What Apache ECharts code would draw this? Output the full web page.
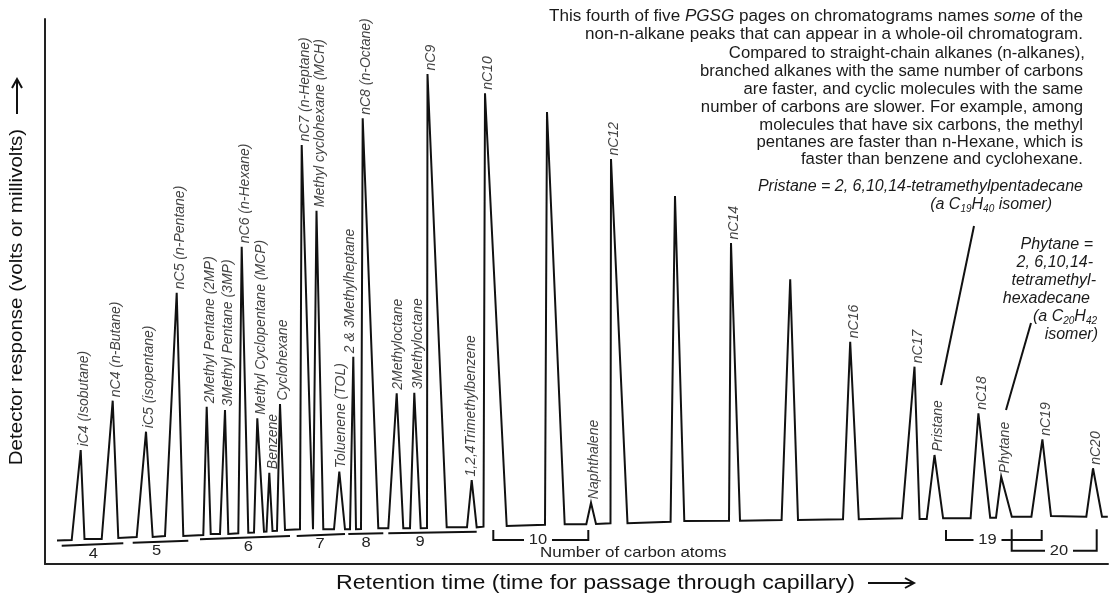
<!DOCTYPE html>
<html><head><meta charset="utf-8">
<script src="https://cdn.jsdelivr.net/npm/echarts@6/dist/echarts.min.js"></script>
<style>html,body{margin:0;padding:0;background:#fff}#c{width:1115px;height:596px}</style>
</head><body><div id="c"></div>
<script>
// ---- data (retention time units, detector response units) ----
const peakNames = ['iC4 (Isobutane)','nC4 (n-Butane)','iC5 (isopentane)','nC5 (n-Pentane)','2Methyl Pentane (2MP)','3Methyl Pentane (3MP)','nC6 (n-Hexane)','Methyl Cyclopentane (MCP)','Benzene','Cyclohexane','nC7 (n-Heptane)','Methyl cyclohexane (MCH)','Toluenene (TOL)','2 & 3Methylheptane','nC8 (n-Octane)','2Methyloctane','3Methyloctane','nC9','1,2,4Trimethylbenzene','nC10','','Naphthalene','nC12','','nC14','','nC16','nC17','Pristane','nC18','Phytane','nC19','nC20'];
const riseTime   = [26.7,56.7,91.7,120,158.3,175,193.3,209,221.5,232,255,270,289,305,316,343.3,365,382,422,438.5,500,541.3,565.5,625.6,684,736.6,798,857,881.7,925.6,951,986.4,1041.3];
const riseLevel  = [24,25,27,28,29,30,30.7,31.5,32.5,33.3,34.7,34.7,34.7,34.7,35,35.7,35.7,36,36.7,37.3,39.3,39.7,40.7,42.3,43.3,44,44.7,45.7,45,45.7,46.3,47.3,47.3];
const apexTime   = [35.7,67.7,101,131.7,161.7,180,196.7,212.3,224.3,235,256.7,271.5,294.3,308.3,317.7,351.7,369.3,382.5,426.7,440,502,546,566,630,686,745.2,805.2,869.5,889.5,933.4,956.2,997.4,1048];
const apexHeight = [114,163.3,132.3,271.3,157.3,154,317.3,145.7,91.3,160,419,353.3,92.3,207.3,445.7,170.7,171.3,490,84,470.7,452,61.3,405,368,321,284.7,222.3,197.3,109,150.7,87.3,124.7,95.7];
const fallTime   = [39.5,73.3,107.7,138.3,165.7,183.3,203.3,219,227.5,240,268,278.3,300,311,333.3,358.3,375.7,401.7,431.7,461.7,519.7,551,582.5,639.3,695,753,813.8,874.6,898.1,945.2,966.8,1006,1057];
const fallLevel  = [25,26,27,28,30,30,31.3,32.3,33,34,34.7,34.7,34.7,34.7,35.7,35.7,35.7,36.7,36.7,38,39.7,40,40.7,43,43.3,44,44.7,45,45.7,46.3,47.3,48,47.3];
const traceStart = [12, 23.5];
const traceEnd   = [1062.8, 47.3];

// carbon-number groups (underlines)
const groupCarbons   = ['4','5','6','7','8','9'];
const groupFrom      = [16.7,87.7,155,251.7,303.3,343.3];
const groupTo        = [78.3,143.3,245,300,338.3,431.7];
const groupLevelFrom = [18.3,21.3,24.7,28,30,30.7];
const groupLevelTo   = [20.7,23.3,28,30,30.7,32.3];
const groupLabelAt   = [48.3,111.7,203.3,275,321,375];

// carbon-number brackets
const bracketCarbons = ['10','19','20'];
const bracketFrom    = [448.3,901,966.7];
const bracketTo      = [543.3,996.7,1051.7];
const bracketTop     = [34,34,34.7];
const bracketLevel   = [24,24,13.3];
const bracketLabelAt = [493,942.5,1014];

// leader lines for Pristane / Phytane notes
const leaderFrom = [[896,179],[961,154]];
const leaderTo   = [[929,338],[986,241]];

// ---- styling helpers (not data) ----
const labelNudge = { '2 & 3Methylheptane': -7, '1,2,4Trimethylbenzene': -4, 'Toluenene (TOL)': -2, '2Methyloctane': -2 };

// ---- build ----
const trace = [traceStart];
for (let i = 0; i < peakNames.length; i++) {
  trace.push([riseTime[i], riseLevel[i]], [apexTime[i], apexHeight[i]], [fallTime[i], fallLevel[i]]);
}
trace.push(traceEnd);

const labelData = [];
peakNames.forEach((n, i) => {
  if (!n) return;
  const item = { name: n, value: [apexTime[i], apexHeight[i]] };
  if (labelNudge[n] !== undefined) item.label = { position: [4 + labelNudge[n], -3] };
  labelData.push(item);
});

const FF = "'Liberation Sans', Arial, Helvetica, sans-serif";
const INK = '#111';

const groupData = groupCarbons.map((c, i) => [groupFrom[i], groupLevelFrom[i], groupTo[i], groupLevelTo[i], groupLabelAt[i], i]);
const bracketData = bracketCarbons.map((c, i) => [bracketFrom[i], bracketTop[i], bracketTo[i], bracketLevel[i], bracketLabelAt[i], i]);
const leaderData = leaderFrom.map((f, i) => [f[0], f[1], leaderTo[i][0], leaderTo[i][1]]);

const chart = echarts.init(document.getElementById('c'));

const TS = 16.7;
function txt(x, y, text, opts, extra) {
  return Object.assign({ type: 'text', x: x, y: y, silent: true,
    style: Object.assign({ text: text, fill: '#1a1a1a', fontSize: TS, fontFamily: FF, align: 'right', verticalAlign: 'middle' }, opts || {}) }, extra || {});
}
const R = { fontSize: 17.1, fontFamily: FF, fill: '#1a1a1a', lineHeight: 18, verticalAlign: 'middle' };
const RI = Object.assign({}, R, { fontStyle: 'italic' });
const RI16 = Object.assign({}, RI, { fontSize: 16 });
const RS = { fontSize: 10, fontFamily: FF, fontStyle: 'italic', fill: '#1a1a1a', lineHeight: 12, verticalAlign: 'bottom' };

const graphics = [
  txt(1083, 16, 'This fourth of five {i|PGSG} pages on chromatograms names {i|some} of the', { fontSize: 17.1, rich: { i: RI } }),
  txt(1083, 34, 'non-n-alkane peaks that can appear in a whole-oil chromatogram.', { fontSize: 17.1 }),
  txt(1085, 53, 'Compared to straight-chain alkanes (n-alkanes),'),
  txt(1083, 71, 'branched alkanes with the same number of carbons'),
  txt(1083, 89, 'are faster, and cyclic molecules with the same'),
  txt(1083, 107, 'number of carbons are slower. For example, among'),
  txt(1083, 125, 'molecules that have six carbons, the methyl'),
  txt(1083, 142, 'pentanes are faster than n-Hexane, which is'),
  txt(1083, 159, 'faster than benzene and cyclohexane.'),
  txt(1083, 187, 'Pristane = 2, 6,10,14-tetramethylpentadecane', { fontStyle: 'italic', fontSize: 16 }),
  txt(1052, 205, '{a|(a C}{s|19}{a|H}{s|40}{a| isomer)}', { rich: { a: RI16, s: RS } }),
  txt(1093, 245, 'Phytane =', { fontStyle: 'italic', fontSize: 16 }),
  txt(1093, 263, '2, 6,10,14-', { fontStyle: 'italic', fontSize: 16 }),
  txt(1096, 281, 'tetramethyl-', { fontStyle: 'italic', fontSize: 16 }),
  txt(1090, 299, 'hexadecane', { fontStyle: 'italic', fontSize: 16 }),
  txt(1097, 317, '{a|(a C}{s|20}{a|H}{s|42}', { rich: { a: RI16, s: RS } }),
  txt(1098, 335, 'isomer)', { fontStyle: 'italic', fontSize: 16 }),
  txt(540, 553, 'Number of carbon atoms', { align: 'left', fontSize: 15, fill: '#222' }, { scaleX: 1.13 }),
  txt(336, 583, 'Retention time (time for passage through capillary)', { align: 'left', fontSize: 20.5, fill: '#111' }, { scaleX: 1.13 }),
  { type: 'text', x: 17, y: 297, rotation: Math.PI / 2, scaleX: 1.14, silent: true,
    style: { text: 'Detector response (volts or millivolts)', fill: '#111', fontSize: 18, fontFamily: FF, align: 'center', verticalAlign: 'middle' } },
  { type: 'line', silent: true, shape: { x1: 868, y1: 583, x2: 914, y2: 583 }, style: { stroke: '#111', lineWidth: 2 } },
  { type: 'polyline', silent: true, shape: { points: [[905, 578], [914, 583], [905, 588]] }, style: { stroke: '#111', lineWidth: 2, fill: null } },
  { type: 'line', silent: true, shape: { x1: 17, y1: 114, x2: 17, y2: 79 }, style: { stroke: '#111', lineWidth: 2 } },
  { type: 'polyline', silent: true, shape: { points: [[12, 88], [17, 79], [22, 88]] }, style: { stroke: '#111', lineWidth: 2, fill: null } }
];

chart.setOption({
  animation: false,
  backgroundColor: '#fff',
  grid: { left: 45, right: 7, top: 19, bottom: 32 },
  xAxis: { type: 'value', min: 0, max: 1063, axisLine: { show: true, onZero: false, lineStyle: { color: '#222', width: 2 } },
           axisTick: { show: false }, axisLabel: { show: false }, splitLine: { show: false } },
  yAxis: { type: 'value', min: 0, max: 545, axisLine: { show: true, lineStyle: { color: '#222', width: 2 } },
           axisTick: { show: false }, axisLabel: { show: false }, splitLine: { show: false } },
  graphic: graphics,
  series: [
    { type: 'line', data: trace, showSymbol: false, symbol: 'none', silent: true, sampling: null,
      lineStyle: { color: INK, width: 2, join: 'miter', miterLimit: 6 } },
    { type: 'scatter', data: labelData, symbolSize: 1, silent: true,
      itemStyle: { color: 'rgba(0,0,0,0)' },
      label: { show: true, formatter: '{b}', position: [4, -3], rotate: 90, align: 'left', verticalAlign: 'middle',
               fontStyle: 'italic', fontSize: 14, fontFamily: FF, color: INK } },
    { type: 'custom', data: groupData, silent: true,
      renderItem: function (params, api) {
        const a = api.coord([api.value(0), api.value(1)]);
        const b = api.coord([api.value(2), api.value(3)]);
        const l = api.coord([api.value(4), (api.value(1) + api.value(3)) / 2]);
        const i = api.value(5);
        return { type: 'group', children: [
          { type: 'line', shape: { x1: a[0], y1: a[1], x2: b[0], y2: b[1] }, style: { stroke: INK, lineWidth: 2 } },
          { type: 'text', x: l[0], y: l[1] + 9, scaleX: 1.1, style: { text: groupCarbons[i], fill: '#222', fontSize: 15, fontFamily: FF, align: 'center', verticalAlign: 'middle' } }
        ] };
      } },
    { type: 'custom', data: bracketData, silent: true,
      renderItem: function (params, api) {
        const t = api.coord([api.value(0), api.value(1)]);
        const bl = api.coord([api.value(0), api.value(3)]);
        const br = api.coord([api.value(2), api.value(3)]);
        const tr = api.coord([api.value(2), api.value(1)]);
        const l = api.coord([api.value(4), api.value(3)]);
        const i = api.value(5);
        const gap = 14;
        return { type: 'group', children: [
          { type: 'polyline', shape: { points: [t, bl, [l[0] - gap, bl[1]]] }, style: { stroke: INK, lineWidth: 2, fill: null } },
          { type: 'polyline', shape: { points: [[l[0] + gap, br[1]], br, tr] }, style: { stroke: INK, lineWidth: 2, fill: null } },
          { type: 'text', x: l[0], y: l[1], scaleX: 1.1, style: { text: bracketCarbons[i], fill: '#222', fontSize: 15, fontFamily: FF, align: 'center', verticalAlign: 'middle' } }
        ] };
      } },
    { type: 'custom', data: leaderData, silent: true,
      renderItem: function (params, api) {
        const a = api.coord([api.value(0), api.value(1)]);
        const b = api.coord([api.value(2), api.value(3)]);
        return { type: 'line', shape: { x1: a[0], y1: a[1], x2: b[0], y2: b[1] }, style: { stroke: INK, lineWidth: 2 } };
      } }
  ]
});
</script></body></html>
